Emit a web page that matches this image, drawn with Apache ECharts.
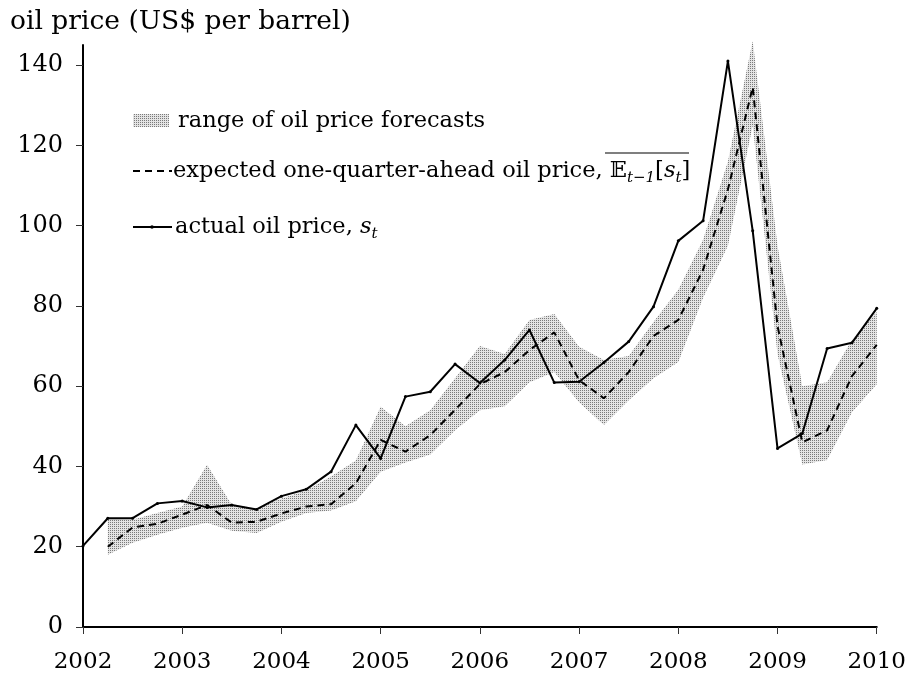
<!DOCTYPE html>
<html>
<head>
<meta charset="utf-8">
<script src="https://cdn.jsdelivr.net/npm/echarts@6/dist/echarts.min.js"></script>
<style>
html,body{margin:0;padding:0;background:#fff;}
#main{width:909px;height:679px;}
</style>
</head>
<body>
<div id="main"></div>
<script>
// quarterly observations, 2002 to 2010
var quarters = [2002, 2002.25, 2002.5, 2002.75, 2003, 2003.25, 2003.5, 2003.75,
    2004, 2004.25, 2004.5, 2004.75, 2005, 2005.25, 2005.5, 2005.75,
    2006, 2006.25, 2006.5, 2006.75, 2007, 2007.25, 2007.5, 2007.75,
    2008, 2008.25, 2008.5, 2008.75, 2009, 2009.25, 2009.5, 2009.75, 2010];

var actualPrice = [20.2, 27.1, 27.1, 30.8, 31.4, 29.8, 30.4, 29.3,
    32.6, 34.3, 38.7, 50.3, 42.0, 57.4, 58.6, 65.5,
    60.8, 66.5, 74.0, 60.9, 61.1, 65.9, 71.1, 79.8,
    96.2, 101.2, 141.0, 98.7, 44.5, 48.2, 69.4, 70.8, 79.4];

var expectedPrice = [null, 20.0, 24.8, 25.7, 28.0, 30.4, 26.0, 26.2,
    28.3, 30.0, 30.6, 35.8, 46.6, 43.7, 47.8, 54.1,
    60.5, 63.5, 69.0, 73.4, 61.5, 57.0, 63.5, 72.5,
    76.5, 89.0, 109.0, 134.5, 75.0, 46.0, 49.0, 62.5, 70.3];

var forecastLow = [null, 18.0, 21.0, 23.0, 24.7, 26.0, 24.0, 23.4,
    26.2, 28.4, 29.0, 31.3, 38.7, 41.0, 43.0, 49.0,
    54.0, 55.0, 61.0, 63.5, 56.0, 50.3, 56.5, 62.0,
    66.0, 82.0, 95.0, 125.0, 68.0, 40.5, 41.6, 53.5, 60.5];

var forecastHigh = [null, 27.0, 26.7, 28.4, 30.0, 40.4, 30.4, 29.6,
    32.0, 34.0, 37.5, 41.5, 54.9, 50.0, 54.0, 62.0,
    70.0, 68.0, 76.5, 78.0, 69.8, 66.5, 67.5, 76.0,
    84.0, 96.5, 116.0, 146.0, 95.0, 60.0, 61.0, 71.5, 78.5];

var priceTicks = [0, 20, 40, 60, 80, 100, 120, 140];

var serif = '"DejaVu Serif", "Liberation Serif", serif';

// stipple pattern for the forecast range
function makeDots() {
    var c = document.createElement('canvas');
    c.width = 2; c.height = 2;
    var g = c.getContext('2d');
    g.fillStyle = '#e4e4e4';
    g.fillRect(0, 0, 2, 2);
    g.fillStyle = '#7a7a7a';
    g.fillRect(0, 0, 1, 1);
    return c;
}
var dots = makeDots();

var bandData = [], expData = [], actData = [];
for (var i = 0; i < quarters.length; i++) {
    actData.push([quarters[i], actualPrice[i]]);
    if (expectedPrice[i] != null) expData.push([quarters[i], expectedPrice[i]]);
    if (forecastLow[i] != null) bandData.push([quarters[i], forecastLow[i], forecastHigh[i]]);
}

// whole range band as one polygon, drawn on the first item
function renderBand(params, api) {
    if (params.dataIndex !== 0) return null;
    var top = [], bottom = [];
    for (var k = 0; k < bandData.length; k++) {
        top.push(api.coord([bandData[k][0], bandData[k][2]]));
        bottom.unshift(api.coord([bandData[k][0], bandData[k][1]]));
    }
    return {
        type: 'polygon',
        shape: {points: top.concat(bottom)},
        style: {fill: {image: dots, repeat: 'repeat'}}
    };
}

var chart = echarts.init(document.getElementById('main'));
var option = {
    animation: false,
    backgroundColor: '#fff',
    grid: {left: 83, right: 31, top: 45, bottom: 52},
    xAxis: {
        type: 'value',
        min: 2002,
        max: 2010,
        interval: 1,
        splitLine: {show: false},
        axisLine: {lineStyle: {color: '#000', width: 2}},
        axisTick: {length: 7, lineStyle: {color: '#333', width: 1}},
        axisLabel: {
            margin: 24,
            color: '#000',
            fontFamily: serif,
            fontSize: 23,
            formatter: function (v) { return String(v); }
        }
    },
    yAxis: {
        type: 'value',
        min: 0,
        max: 145,
        splitLine: {show: false},
        axisLine: {show: true, lineStyle: {color: '#000', width: 2}},
        axisTick: {show: true, length: 7, customValues: priceTicks, lineStyle: {color: '#333', width: 1}},
        axisLabel: {
            margin: 20,
            color: '#000',
            fontFamily: serif,
            fontSize: 24,
            customValues: priceTicks
        }
    },
    series: [
        {
            type: 'custom',
            name: 'range of oil price forecasts',
            data: bandData,
            renderItem: renderBand,
            encode: {x: 0, y: [1, 2]},
            z: 1
        },
        {
            type: 'line',
            name: 'expected',
            data: expData,
            symbol: 'none',
            lineStyle: {color: '#000', width: 2, type: [7, 5]},
            z: 3
        },
        {
            type: 'line',
            name: 'actual',
            data: actData,
            symbol: 'circle',
            symbolSize: 3,
            itemStyle: {color: '#000'},
            lineStyle: {color: '#000', width: 2},
            z: 4
        }
    ],
    graphic: [
        {
            type: 'text', left: 10, top: 9,
            style: {text: 'oil price (US$ per barrel)', font: '26.5px ' + serif, fill: '#000'}
        },
        // legend: range
        {
            type: 'rect', shape: {x: 133, y: 114, width: 36, height: 13},
            style: {fill: {image: dots, repeat: 'repeat'}}
        },
        {
            type: 'text', x: 178, y: 121,
            style: {text: 'range of oil price forecasts', font: '22.5px ' + serif, fill: '#000', verticalAlign: 'middle'}
        },
        // legend: expected
        {
            type: 'line', shape: {x1: 133, y1: 171, x2: 172, y2: 171},
            style: {stroke: '#000', lineWidth: 2, lineDash: [7, 5]}
        },
        {
            type: 'text', x: 173, y: 171,
            style: {
                text: 'expected one-quarter-ahead oil price, {bb|𝔼}{sub|t−1}{n|[}{it|s}{sub|t}{n|]}',
                font: '22.5px ' + serif, fill: '#000', verticalAlign: 'middle',
                rich: {
                    bb: {fontFamily: serif, fontSize: 22.5},
                    n: {fontFamily: serif, fontSize: 22.5},
                    it: {fontFamily: serif, fontSize: 22.5, fontStyle: 'italic'},
                    sub: {fontFamily: serif, fontSize: 15, fontStyle: 'italic', padding: [14, 0, 0, 0]}
                }
            }
        },
        {
            type: 'line', shape: {x1: 605, y1: 153, x2: 689, y2: 153},
            style: {stroke: '#000', lineWidth: 1.2}
        },
        // legend: actual
        {
            type: 'line', shape: {x1: 133, y1: 227, x2: 172, y2: 227},
            style: {stroke: '#000', lineWidth: 2}
        },
        {
            type: 'circle', shape: {cx: 152, cy: 227, r: 1.8},
            style: {fill: '#000'}
        },
        {
            type: 'text', x: 175, y: 227,
            style: {
                text: 'actual oil price, {it|s}{sub|t}',
                font: '22.5px ' + serif, fill: '#000', verticalAlign: 'middle',
                rich: {
                    it: {fontFamily: serif, fontSize: 22.5, fontStyle: 'italic'},
                    sub: {fontFamily: serif, fontSize: 15, fontStyle: 'italic', padding: [14, 0, 0, 0]}
                }
            }
        }
    ]
};
chart.setOption(option);
</script>
</body>
</html>
